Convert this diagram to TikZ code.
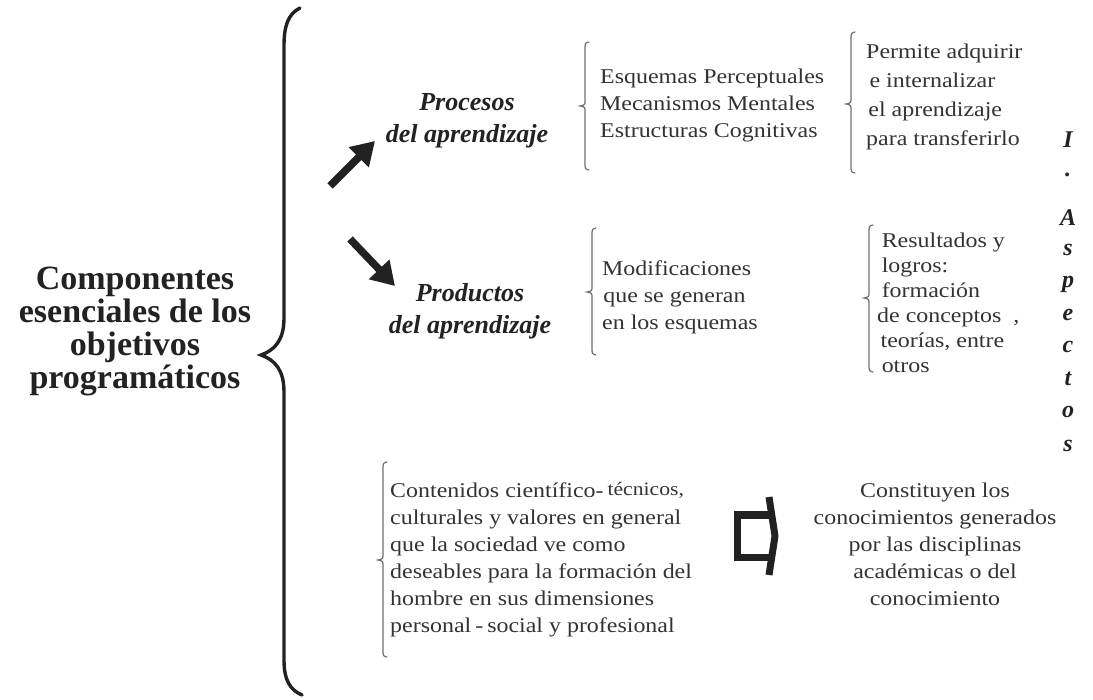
\documentclass[tikz,border=0pt]{standalone}
\usepackage{fontspec}
\usepackage{graphicx}
\setmainfont{Liberation Serif}
\usetikzlibrary{arrows.meta}
\definecolor{ink}{HTML}{222222}
\definecolor{txt}{HTML}{333333}
\definecolor{brgray}{HTML}{707070}
\newcommand{\wideblock}[2][l]{\scalebox{1.14}[1]{\begin{tabular}{@{}#1@{}}#2\end{tabular}}}
\newcommand{\smallbrace}[4]{%
  \draw[sbrace] (#1+4,#2) .. controls (#1,#2+1) .. (#1,#2+8) -- (#1,#4-6)
    .. controls (#1,#4-1) .. (#1-5,#4) .. controls (#1,#4+1) .. (#1,#4+6)
    -- (#1,#3-8) .. controls (#1,#3-1) .. (#1+4,#3);}
\tikzset{
  sbrace/.style={draw=brgray, line width=1.2pt, line cap=round},
  plain/.style={inner sep=0pt, text=txt, font=\fontsize{21}{27}\selectfont},
  titletext/.style={inner sep=0pt, text=ink, font=\fontsize{34}{33}\selectfont\bfseries, align=center},
  headtext/.style={inner sep=0pt, text=ink, font=\fontsize{26}{32}\selectfont\bfseries\itshape, align=center},
  vletter/.style={inner sep=0pt, text=ink, font=\fontsize{24}{24}\selectfont\bfseries\itshape},
  thickarrow/.style={draw=ink, line width=7.5pt, -{Triangle[length=23pt,width=27pt]}},
  hollow/.style={draw=ink, line width=7pt, line join=miter, line cap=butt},
}
\begin{document}
\begin{tikzpicture}[x=1pt,y=-1pt]
\useasboundingbox (0,0) rectangle (1093,700);
\fill[white] (0,0) rectangle (1093,700);

% big brace
\draw[ink, line width=3.4pt, line cap=round]
  (300,8) .. controls (288,14) and (284,26) .. (284,46) -- (284,318)
  .. controls (284,340) and (275,350) .. (261,355)
  .. controls (275,360) and (284,370) .. (284,392) -- (284,660)
  .. controls (284,680) and (290,690) .. (302,695);

% title
\node[titletext] (title) at (135,331) {Componentes\\esenciales de los\\objetivos\\programáticos};

% headings
\node[headtext] (proc) at (467,121) {Procesos\\del aprendizaje};
\node[headtext] (prod) at (470,311) {Productos\\del aprendizaje};

% thick arrows
\coordinate (a1s) at (330,186);
\coordinate (a1e) at (375,141);
\coordinate (a2s) at (350,239);
\coordinate (a2e) at (395,286);
\draw[thickarrow] (a1s) -- (a1e);
\draw[thickarrow] (a2s) -- (a2e);

% block A
\smallbrace{585}{42}{170}{106}
\node[plain, anchor=west] (esq) at (600,105) {\wideblock{Esquemas Perceptuales\\Mecanismos Mentales\\Estructuras Cognitivas}};

% block B
\smallbrace{851}{32}{173}{104}
\node[plain, anchor=west, font=\fontsize{21}{29}\selectfont] (perm) at (866,96) {\wideblock{Permite adquirir\\\hspace{3pt}e internalizar\\\hspace{2pt}el aprendizaje\\para transferirlo}};

% block C
\smallbrace{592}{228}{355}{292}
\node[plain, anchor=west] (modi) at (602,297) {\wideblock{Modificaciones\\\hspace{1pt}que se generan\\en los esquemas}};

% block D
\smallbrace{869}{225}{372}{298}
\node[plain, anchor=west, font=\fontsize{21}{25}\selectfont] (resu) at (877,305) {\wideblock{\hspace{4pt}Resultados y\\\hspace{4pt}logros:\\\hspace{4pt}formación\\de conceptos\ \ ,\\\hspace{3pt}teorías, entre\\\hspace{4pt}otros}};

% vertical word
\foreach \ch/\yy [count=\i] in {I/140,./175,A/218,s/250,p/284,e/315,c/347,t/379,o/412,s/446}
  \node[vletter] (v\i) at (1068,\yy) {\ch};

% block E
\smallbrace{383}{462}{657}{560}
\node[plain, anchor=west] (cont) at (390,560) {\wideblock{Contenidos científico-\,{\fontsize{19}{27}\selectfont\raisebox{2pt}{técnicos,}}\\culturales y valores en general\\que la sociedad ve como\\deseables para la formación del\\hombre en sus dimensiones\\personal\,-\,social y profesional}};

% hollow arrow
\coordinate (hb1) at (737,515);
\draw[hollow] (771,515) -- (737,515) -- (737,557) -- (771,557);
\draw[hollow, line join=round] (769,497) -- (775,536) -- (769,575);

% block F
\node[plain] (const) at (935,546) {\wideblock[c]{Constituyen los\\conocimientos generados\\por las disciplinas\\académicas o del\\conocimiento}};
\end{tikzpicture}
\end{document}
